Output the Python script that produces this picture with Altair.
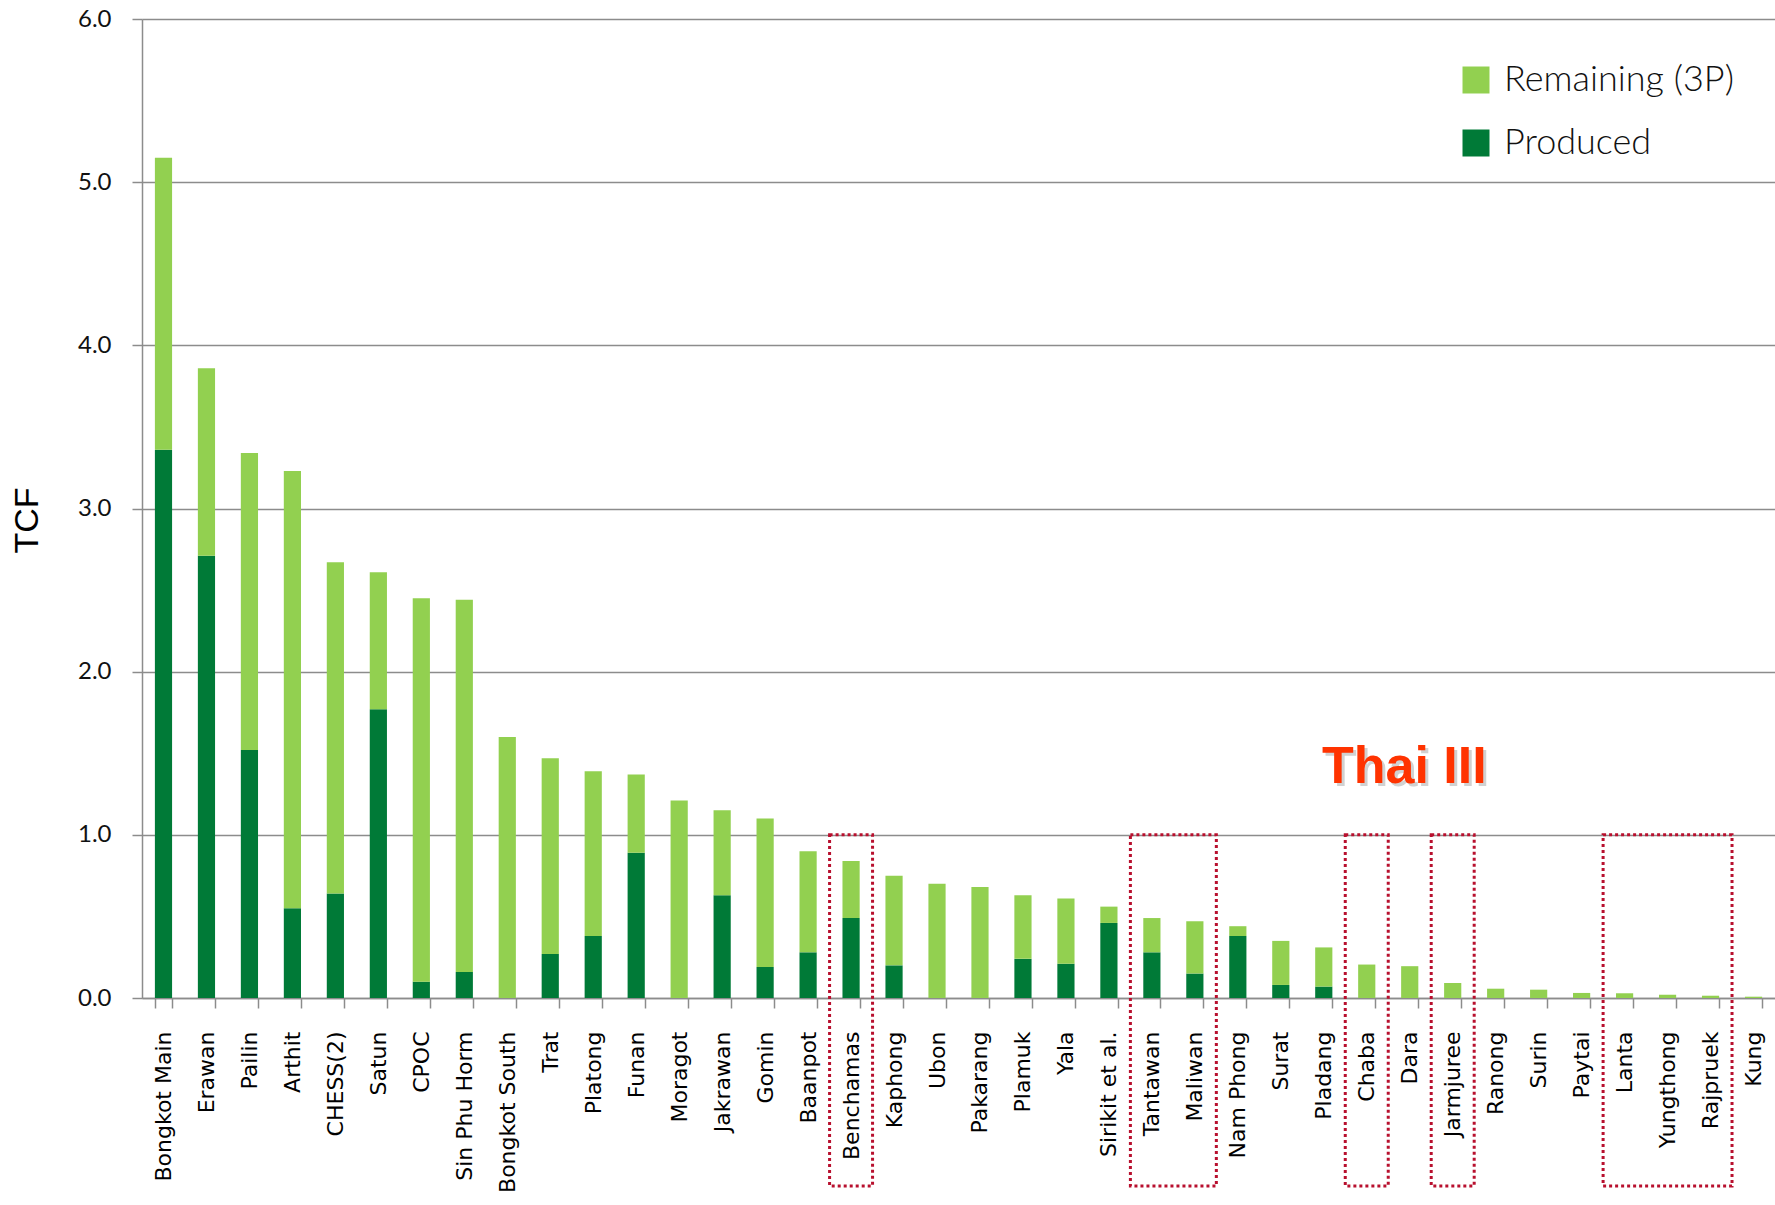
import altair as alt
import pandas as pd

# Gas fields, ordered by total resource (TCF)
fields = [
    "Bongkot Main", "Erawan", "Pailin", "Arthit", "CHESS(2)", "Satun", "CPOC",
    "Sin Phu Horm", "Bongkot South", "Trat", "Platong", "Funan", "Moragot",
    "Jakrawan", "Gomin", "Baanpot", "Benchamas", "Kaphong", "Ubon", "Pakarang",
    "Plamuk", "Yala", "Sirikit et al.", "Tantawan", "Maliwan", "Nam Phong",
    "Surat", "Pladang", "Chaba", "Dara", "Jarmjuree", "Ranong", "Surin",
    "Paytai", "Lanta", "Yungthong", "Rajpruek", "Kung",
]

# Cumulative production (TCF)
produced = [
    3.36, 2.71, 1.52, 0.55, 0.64, 1.77, 0.10, 0.16, 0.00, 0.27, 0.38, 0.89,
    0.00, 0.63, 0.19, 0.28, 0.49, 0.20, 0.00, 0.00, 0.24, 0.21, 0.46, 0.28,
    0.15, 0.38, 0.08, 0.07, 0.00, 0.00, 0.00, 0.00, 0.00, 0.00, 0.00, 0.00,
    0.00, 0.00,
]

# Remaining 3P reserves (TCF)
remaining = [
    1.79, 1.15, 1.82, 2.68, 2.03, 0.84, 2.35, 2.28, 1.60, 1.20, 1.01, 0.48,
    1.21, 0.52, 0.91, 0.62, 0.35, 0.55, 0.70, 0.68, 0.39, 0.40, 0.10, 0.21,
    0.32, 0.06, 0.27, 0.24, 0.205, 0.195, 0.092, 0.057, 0.051, 0.031, 0.029,
    0.020, 0.014, 0.008,
]

series_names = ["Remaining (3P)", "Produced"]
series_colors = ["#92D050", "#007A37"]

# Thai III blocks (first and last field of each outlined group)
group_first = ["Benchamas", "Tantawan", "Chaba", "Jarmjuree", "Lanta"]
group_last = ["Benchamas", "Maliwan", "Chaba", "Jarmjuree", "Rajpruek"]

rows = []
for f, p, r in zip(fields, produced, remaining):
    rows.append({"field": f, "series": "Produced", "tcf": p, "rank": 0})
    rows.append({"field": f, "series": "Remaining (3P)", "tcf": r, "rank": 1})
bars_df = pd.DataFrame(rows)

boxes_df = pd.DataFrame({
    "i0": [fields.index(a) for a in group_first],
    "i1": [fields.index(b) + 1 for b in group_last],
    "top": [1.0] * len(group_first),
})

W, H = 1633, 979
GRID = "#8c8c8c"

bars = alt.Chart(bars_df).mark_bar().encode(
    x=alt.X(
        "field:N",
        sort=fields,
        title=None,
        scale=alt.Scale(paddingInner=0.6, paddingOuter=0.3),
        axis=alt.Axis(
            labelAngle=-90,
            labelFont="DejaVu Sans",
            labelFontSize=22,
            labelColor="#000000",
            labelPadding=23,
            tickBand="extent",
            tickSize=10,
            tickColor=GRID,
            tickWidth=1.5,
            domainColor=GRID,
            domainWidth=1.5,
            grid=False,
            labelOverlap=False,
            labelLimit=0,
        ),
    ),
    y=alt.Y(
        "tcf:Q",
        stack="zero",
        title="TCF",
        scale=alt.Scale(domain=[0, 6], nice=False),
        axis=alt.Axis(
            values=[0, 1, 2, 3, 4, 5, 6],
            format=".1f",
            labelFont="Lato",
            labelFontSize=24,
            labelColor="#111111",
            labelPadding=21,
            tickSize=10,
            tickColor=GRID,
            tickWidth=1.5,
            domainColor=GRID,
            domainWidth=1.5,
            gridColor=GRID,
            gridWidth=1.5,
            titleFont="Liberation Sans",
            titleFontSize=34,
            titleFontWeight="normal",
            titleColor="#000000",
            titleAngle=-90,
            titleAlign="center",
            titleBaseline="middle",
            titleX=-115,
            titleY=501,
        ),
    ),
    color=alt.Color(
        "series:N",
        scale=alt.Scale(domain=series_names, range=series_colors),
        legend=alt.Legend(
            title=None,
            orient="none",
            legendX=1316,
            legendY=43,
            symbolType="square",
            symbolSize=729,
            symbolStrokeWidth=0,
            labelFont="Lato",
            labelFontSize=36,
            labelFontWeight=300,
            labelColor="#111111",
            labelOffset=10,
            labelLimit=0,
            rowPadding=27,
            padding=0,
        ),
    ),
    order=alt.Order("rank:Q"),
)

# Dotted outlines around the Thai III fields
boxes = alt.Chart(boxes_df).mark_rect(
    fillOpacity=0,
    stroke="#B8102E",
    strokeWidth=3,
    strokeDash=[3, 3],
).encode(
    x=alt.X("i0:Q", scale=alt.Scale(domain=[0, len(fields)], nice=False, zero=False), axis=None),
    x2="i1:Q",
    y=alt.Y("top:Q"),
    y2=alt.value(1167),
)

label_df = pd.DataFrame({"label": ["Thai III"]})

shadow = alt.Chart(label_df).mark_text(
    font="Liberation Sans",
    fontSize=52,
    fontWeight="bold",
    color="#9a9a9a",
    opacity=0.45,
    align="left",
    baseline="alphabetic",
    dx=3,
    dy=3,
).encode(text="label:N", x=alt.value(1180), y=alt.value(764))

title_text = alt.Chart(label_df).mark_text(
    font="Liberation Sans",
    fontSize=52,
    fontWeight="bold",
    color="#FF3300",
    align="left",
    baseline="alphabetic",
).encode(text="label:N", x=alt.value(1180), y=alt.value(764))

chart = alt.layer(bars, boxes, shadow, title_text).resolve_scale(
    x="independent"
).properties(
    width=W,
    height=H,
    autosize=alt.AutoSizeParams(type="none"),
    padding={"left": 142, "top": 19, "right": 0, "bottom": 196},
    background="white",
).configure_view(stroke=None)

chart.save("out.html", embed_options={"renderer": "svg", "actions": False})
